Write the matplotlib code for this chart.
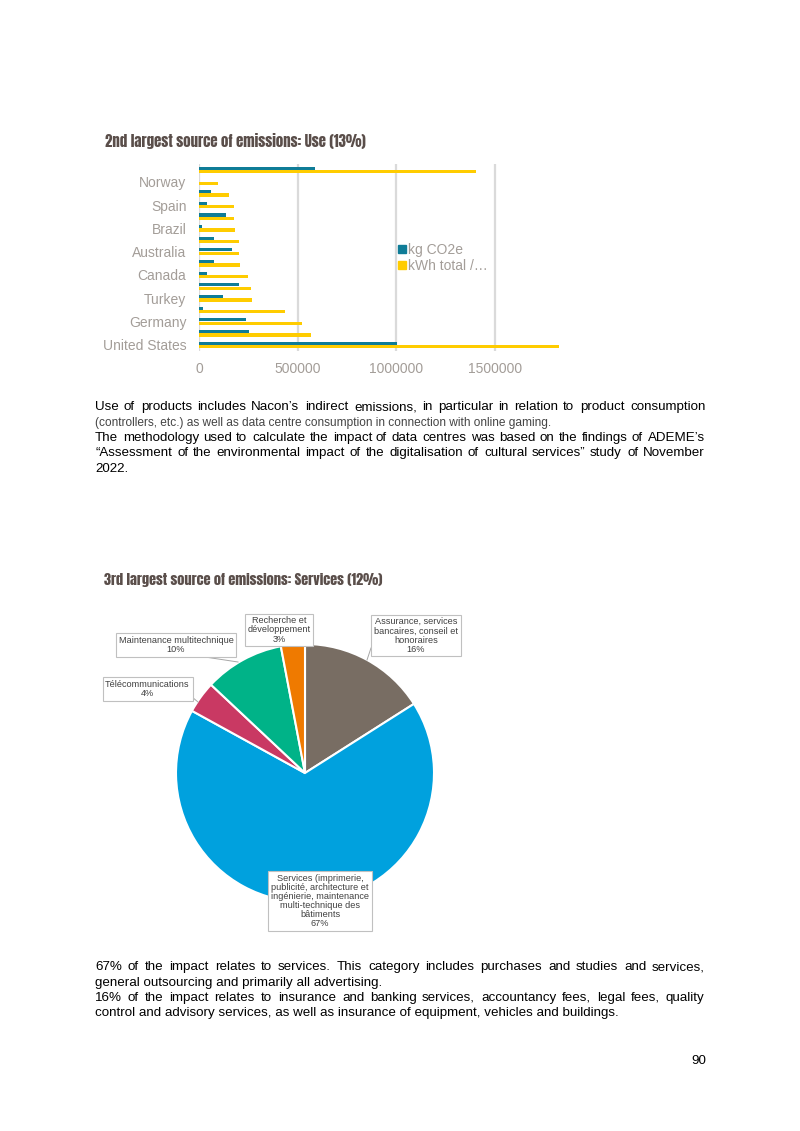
import matplotlib
matplotlib.use("Agg")
import matplotlib.pyplot as plt
import matplotlib.font_manager as fm
from matplotlib.patches import Patch
import numpy as np

W, H = 800, 1131
fig = plt.figure(figsize=(8, 11.31), dpi=100)


def fx(px):
    return px / W


def fy(py):
    return 1 - py / H


# ---------------- data ----------------
bar_title = "2nd largest source of emissions: Use (13%)"
# top-to-bottom order as shown; "" = category whose label is hidden by the axis
countries = ["", "Norway", "", "Spain", "", "Brazil", "", "Australia", "",
             "Canada", "", "Turkey", "", "Germany", "", "United States"]
co2_kg = [590000, 0, 61000, 39000, 138000, 14000, 77000, 169000, 77000,
          41000, 205000, 123000, 19000, 240000, 256000, 1003000]
kwh_total = [1405000, 97000, 150000, 176000, 179000, 184000, 203000, 205000,
             210000, 247000, 266000, 270000, 437000, 525000, 566000, 1826000]
series_names = ["kg CO2e", "kWh total /…"]
x_ticks = [0, 500000, 1000000, 1500000]

pie_title = "3rd largest source of emissions: Services (12%)"
pie_labels = [
    "Assurance, services\nbancaires, conseil et\nhonoraires\n16%",
    "Services (imprimerie,\npublicité, architecture et\ningénierie, maintenance\nmulti-technique des\nbâtiments\n67%",
    "Télécommunications\n4%",
    "Maintenance multitechnique\n10%",
    "Recherche et\ndéveloppement\n3%",
]
pie_values = [16, 67, 4, 10, 3]

para1 = [
    ("Use of products includes Nacon’s indirect emissions, in particular in relation to product consumption", True, "black"),
    ("(controllers, etc.) as well as data centre consumption in connection with online gaming.", False, "#444444"),
    ("The methodology used to calculate the impact of data centres was based on the findings of ADEME’s", True, "black"),
    ("“Assessment of the environmental impact of the digitalisation of cultural services” study of November", True, "black"),
    ("2022.", False, "black"),
]
para2 = [
    ("67% of the impact relates to services. This category includes purchases and studies and services,", True, "black"),
    ("general outsourcing and primarily all advertising.", False, "black"),
    ("16% of the impact relates to insurance and banking services, accountancy fees, legal fees, quality", True, "black"),
    ("control and advisory services, as well as insurance of equipment, vehicles and buildings.", False, "black"),
]
page_number = "90"

# ---------------- styles ----------------
TEAL = "#0F7C97"
YELLOW = "#FFCC00"
AX_GRAY = "#A39D98"
TITLE_C = "#5A4E4A"
pie_colors = ["#786D63", "#00A1DE", "#C93963", "#00B388", "#EF7A00"]
CHART_FONT = ["Liberation Sans", "DejaVu Sans"]

installed = {f.name for f in fm.fontManager.ttflist}
title_family = "DejaVu Sans"
for cand in ["Anton", "Oswald", "Fjalla One", "Roboto Condensed", "Archivo Narrow", "Roboto"]:
    if cand in installed:
        title_family = cand
        break

# ---------------- bar chart ----------------
n = len(countries)
ypos = np.arange(n)[::-1]
ax = fig.add_axes([fx(199), fy(350.8), fx(560) - fx(199), (350.8 - 164.2) / H])
ax.barh(ypos + 0.15, co2_kg, height=0.27, color=TEAL, zorder=3)
ax.barh(ypos - 0.14, kwh_total, height=0.27, color=YELLOW, zorder=3)
ax.set_ylim(-0.5, n - 0.5)
ax.set_xlim(0, 1832000)
ax.set_yticks(ypos)
ax.set_yticklabels(countries, family=CHART_FONT, fontsize=10, color=AX_GRAY)
ax.set_xticks(x_ticks)
ax.set_xticklabels([str(v) for v in x_ticks], family=CHART_FONT, fontsize=10, color=AX_GRAY)
ax.tick_params(axis="y", length=0, pad=9)
ax.tick_params(axis="x", length=0, pad=8)
for s in ax.spines.values():
    s.set_visible(False)
ax.xaxis.grid(True, color="#DADADA", linewidth=1.6, zorder=0)
ax.set_axisbelow(True)
ax.legend(handles=[Patch(color=TEAL), Patch(color=YELLOW)], labels=series_names,
          loc="upper left", bbox_to_anchor=(fx(398), fy(243)), bbox_transform=fig.transFigure,
          frameon=False, handlelength=0.55, handleheight=0.55, handletextpad=0.15,
          labelspacing=0.15, borderpad=0, borderaxespad=0,
          prop=dict(family=CHART_FONT, size=10), labelcolor=AX_GRAY)

renderer = fig.canvas.get_renderer()


def title(txt, x, y, target_w):
    t = fig.text(fx(x), fy(y), txt, family=[title_family, "DejaVu Sans"], weight="bold",
                 fontsize=11.5, color=TITLE_C, ha="left", va="center")
    w = t.get_window_extent(renderer).width
    t.set_fontsize(min(13, 11.5 * target_w / w))
    return t


title(bar_title, 105, 141, 262)

# ---------------- pie chart ----------------
R = 129.0
cx, cy = 305, 773
axp = fig.add_axes([fx(cx - R), fy(cy + R), 2 * R / W, 2 * R / H])
axp.pie(pie_values, colors=pie_colors, startangle=90, counterclock=False, radius=1,
        wedgeprops=dict(edgecolor="white", linewidth=1.5))
axp.set_xlim(-1, 1)
axp.set_ylim(-1, 1)
axp.set_aspect("equal")
axp.axis("off")


def px2d(px, py):
    return (px - cx) / R, (cy - py) / R


label_pos = [(416, 635.5), (320, 901), (147.5, 689), (176, 645), (279, 630)]
for lab, (px, py) in zip(pie_labels, label_pos):
    x, y = px2d(px, py)
    axp.text(x, y, lab, ha="center", va="center", fontsize=6.6, color="#404040",
             family=CHART_FONT, linespacing=1.02, clip_on=False, zorder=5,
             bbox=dict(boxstyle="square,pad=0.3", fc="white", ec="#C0C0C0", lw=0.8))

leaders = [((371, 648), (367, 660)), ((205, 657), (238, 662)), ((192, 697), (198, 702))]
for (a, b) in leaders:
    xa, ya = px2d(*a)
    xb, yb = px2d(*b)
    axp.plot([xa, xb], [ya, yb], color="#A6A6A6", lw=0.7, clip_on=False, zorder=4)

title(pie_title, 104, 580, 279)

# ---------------- body text ----------------
BODY_SIZE = 9.6


def put_line(line, base_y, justify, color, size=BODY_SIZE, x0=95, x1=705):
    base_y = round(base_y)
    kw = dict(family=CHART_FONT, fontsize=size, color=color, ha="left", va="baseline")
    if not justify:
        fig.text(fx(x0), fy(base_y), line, **kw)
        return
    words = line.split(" ")
    ts = [fig.text(0, fy(base_y), w, **kw) for w in words]
    widths = [t.get_window_extent(renderer).width for t in ts]
    gap = (x1 - x0 - sum(widths)) / (len(words) - 1)
    x = x0
    for t, w in zip(ts, widths):
        t.set_x(fx(round(x)))
        x += w + gap


for i, (line, just, col) in enumerate(para1):
    put_line(line, 410 + i * 15.5, just, col, size=(8.6 if col != "black" else BODY_SIZE))
for i, (line, just, col) in enumerate(para2):
    put_line(line, 970 + i * 15.5, just, col)

fig.text(fx(706), fy(1064), page_number, ha="right", va="baseline", color="black",
         family=CHART_FONT, fontsize=BODY_SIZE)

fig.savefig("out.png", dpi=100, facecolor="white")
